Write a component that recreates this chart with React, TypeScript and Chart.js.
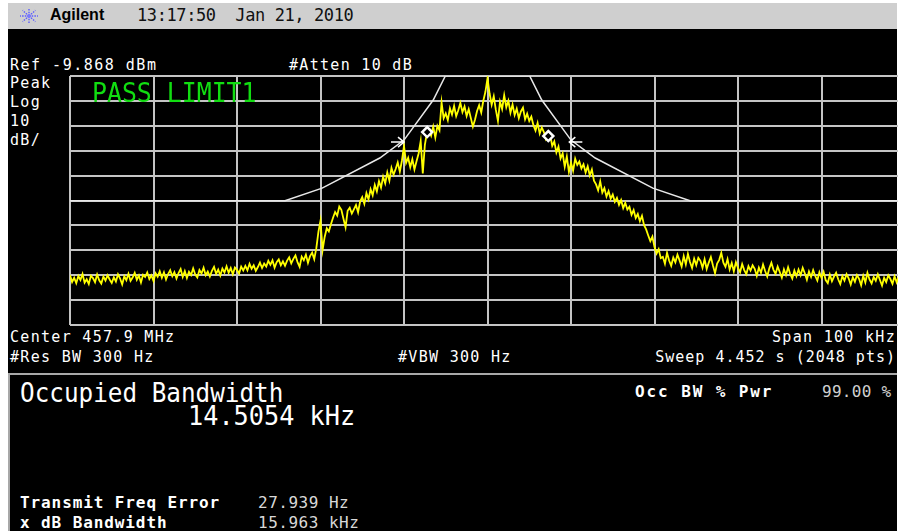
import React, { useEffect, useRef } from "react";
import { Chart, registerables } from "chart.js";

Chart.register(...registerables);

// Sweep: 100 kHz span around 457.9 MHz, trace sampled every 0.25 kHz
const FREQ_START_KHZ = -50;
const FREQ_STEP_KHZ = 0.25;

// Reference level and 10 dB/div log scale
const REF_LEVEL_DBM = -9.868;
const BOTTOM_DBM = -109.868;
const Y_GRID_DBM = [-109.868, -99.868, -89.868, -79.868, -69.868, -59.868, -49.868, -39.868, -29.868, -19.868, -9.868];
const X_GRID_STEP_KHZ = 10;

// Measured trace (dBm), one row per kHz
const TRACE_DBM = [
  -89.8, -92.6, -90.9, -93.1, // -50
  -90.2, -91.8, -89.4, -92.9,
  -91.5, -93.4, -90.1, -91.0,
  -92.7, -89.6, -91.9, -93.2,
  -90.4, -92.0, -89.9, -91.6,
  -93.0, -90.7, -92.4, -89.5, // -45
  -91.2, -93.6, -90.3, -91.9,
  -89.3, -92.1, -90.8, -88.9,
  -91.7, -90.0, -92.8, -89.7,
  -90.6, -88.8, -91.4, -89.9,
  -92.2, -89.1, -90.5, -88.3, // -40
  -90.9, -88.7, -91.6, -89.4,
  -87.9, -90.3, -88.6, -91.2,
  -89.0, -87.4, -90.6, -88.2,
  -91.0, -88.5, -89.8, -87.1,
  -89.6, -90.8, -87.8, -89.2, // -35
  -86.9, -89.9, -88.4, -90.4,
  -88.1, -86.5, -89.3, -87.6,
  -90.0, -87.2, -88.8, -86.3,
  -88.9, -87.0, -89.5, -86.8,
  -87.7, -89.2, -86.4, -88.0, // -30
  -86.1, -87.9, -85.3, -87.3,
  -85.9, -88.1, -86.6, -84.8,
  -87.0, -85.2, -86.4, -84.1,
  -85.7, -83.9, -86.8, -84.6,
  -83.5, -85.9, -84.3, -86.1, // -25
  -84.0, -82.7, -85.1, -83.3,
  -81.9, -84.6, -86.5, -82.4,
  -83.8, -81.6, -84.9, -82.2,
  -80.8, -83.4, -79.0, -72.5,
  -68.0, -79.8, -74.5, -71.0, // -20
  -72.3, -69.4, -66.8, -64.5,
  -65.9, -62.3, -63.6, -67.2,
  -70.6, -64.0, -62.8, -65.1,
  -63.4, -61.7, -64.6, -60.2,
  -58.5, -61.2, -56.9, -59.4, // -15
  -55.3, -57.8, -53.6, -56.2,
  -52.1, -54.7, -50.3, -53.0,
  -48.6, -51.9, -46.8, -49.5,
  -47.2, -44.6, -48.3, -43.9,
  -38.0, -44.8, -42.7, -46.5, // -10
  -43.3, -47.4, -44.1, -41.0,
  -36.0, -49.0, -37.5, -32.6,
  -31.5, -33.8, -30.2, -34.6,
  -29.9, -31.7, -20.5, -26.8,
  -24.9, -27.6, -22.8, -25.3, // -5
  -21.9, -26.0, -23.6, -20.7,
  -24.4, -22.1, -25.9, -23.2,
  -26.7, -30.2, -27.4, -23.9,
  -21.6, -24.5, -19.8, -16.2,
  -10.8, -16.9, -21.4, -18.0, // 0
  -23.5, -27.9, -20.2, -23.1,
  -17.6, -22.4, -19.8, -24.6,
  -21.3, -25.5, -23.0, -26.8,
  -24.1, -22.6, -27.3, -25.0,
  -27.9, -26.2, -29.6, -31.8, // 5
  -28.7, -33.0, -30.5, -32.4,
  -35.3, -34.0, -33.4, -37.9,
  -36.1, -40.6, -38.2, -43.0,
  -40.9, -46.3, -42.2, -48.4,
  -44.7, -47.9, -43.1, -45.6, // 10
  -44.2, -47.0, -45.3, -48.6,
  -46.1, -49.8, -47.4, -51.9,
  -53.4, -55.8, -52.2, -56.7,
  -54.9, -58.3, -56.1, -59.2,
  -57.5, -60.4, -58.8, -61.6, // 15
  -59.7, -62.9, -60.8, -63.5,
  -62.4, -65.6, -63.7, -66.9,
  -65.3, -68.2, -66.0, -69.8,
  -71.5, -73.9, -76.2, -74.4,
  -78.6, -81.2, -79.4, -83.0, // 20
  -82.5, -85.3, -80.9, -84.0,
  -86.1, -82.8, -84.7, -81.6,
  -83.9, -86.4, -82.2, -85.5,
  -81.3, -84.6, -87.0, -83.2,
  -85.8, -82.9, -84.1, -86.9, // 25
  -83.5, -87.4, -84.8, -82.6,
  -86.0, -89.1, -85.2, -83.7,
  -80.9, -84.8, -86.5, -83.4,
  -87.6, -85.0, -88.3, -84.6,
  -86.9, -88.7, -85.4, -87.8, // 30
  -89.5, -86.2, -88.0, -85.9,
  -87.3, -90.1, -86.8, -88.9,
  -85.6, -88.2, -90.4, -87.1,
  -84.9, -87.7, -89.3, -86.4,
  -88.6, -90.9, -87.5, -89.8, // 35
  -86.7, -89.4, -91.2, -88.0,
  -90.3, -87.6, -89.9, -86.9,
  -89.1, -91.7, -88.4, -90.6,
  -87.8, -90.2, -92.0, -88.7,
  -90.9, -88.5, -91.8, -93.0, // 40
  -89.6, -92.3, -90.4, -88.9,
  -91.5, -93.4, -90.2, -92.0,
  -89.4, -91.1, -93.6, -90.7,
  -92.5, -89.8, -91.3, -93.9,
  -90.1, -92.8, -88.9, -91.6, // 45
  -93.2, -90.6, -92.1, -89.5,
  -91.8, -94.0, -90.9, -92.6,
  -89.9, -91.4, -93.3, -90.3,
  -92.7, -90.5, -91.9, -93.1,
  -90.8, // 50
];

// Limit line 1 (spectral mask)
const LIMIT_KHZ = [-50, -24.25, -19.8, -12.9, -10.0, -6.5, -5.05, 5.05, 6.5, 10.0, 12.9, 19.8, 24.25, 50];
const LIMIT_DBM = [-60, -60, -54.9, -42.8, -35.6, -19.5, -9.868, -9.868, -19.5, -35.6, -42.8, -54.9, -60, -60];

// Occupied-bandwidth markers (99 % power edges)
const OBW_MARKER_KHZ = [-7.225, 7.281];
const OBW_MARKER_DBM = [-32.4, -34.0];

// Arrow markers on the mask
const ARROW_KHZ = [-10.0, 9.8];
const ARROW_DBM = [-36.4, -36.4];
const ARROW_DIR = [1, -1];

const MONO = '"DejaVu Sans Mono", "Liberation Mono", monospace';

type TextProps = {
  x?: number;
  right?: number;
  base: number;
  size: number;
  color?: string;
  bold?: boolean;
  spacing?: number;
  scaleX?: number;
  font?: string;
  children: React.ReactNode;
};

function Txt({ x, right, base, size, color = "#ffffff", bold, spacing = 0, scaleX = 1, font = MONO, children }: TextProps) {
  const style: React.CSSProperties = {
    position: "absolute",
    top: base - 0.846 * size,
    fontFamily: font,
    fontSize: size,
    lineHeight: `${size}px`,
    color,
    fontWeight: bold ? "bold" : "normal",
    letterSpacing: spacing,
    whiteSpace: "pre",
    transform: scaleX !== 1 ? `scaleX(${scaleX})` : undefined,
    transformOrigin: right !== undefined ? "right" : "left",
  };
  if (right !== undefined) style.right = 898 - right;
  else style.left = x;
  return <div style={style}>{children}</div>;
}

const arrowPlugin = {
  id: "maskArrows",
  afterDatasetsDraw(chart: any) {
    const { ctx, scales } = chart;
    ctx.save();
    ctx.strokeStyle = "#ffffff";
    ctx.lineWidth = 1.5;
    ARROW_KHZ.forEach((f, i) => {
      const px = scales.x.getPixelForValue(f);
      const py = scales.y.getPixelForValue(ARROW_DBM[i]);
      const d = ARROW_DIR[i];
      ctx.beginPath();
      ctx.moveTo(px - d * 13, py);
      ctx.lineTo(px, py);
      ctx.moveTo(px - d * 6, py - 5);
      ctx.lineTo(px, py);
      ctx.lineTo(px - d * 6, py + 5);
      ctx.stroke();
    });
    ctx.restore();
  },
};

function SpectrumChart() {
  const ref = useRef<HTMLCanvasElement | null>(null);
  useEffect(() => {
    if (!ref.current) return;
    const trace = TRACE_DBM.map((y, i) => ({ x: FREQ_START_KHZ + i * FREQ_STEP_KHZ, y }));
    const limit = LIMIT_KHZ.map((x, i) => ({ x, y: LIMIT_DBM[i] }));
    const markers = OBW_MARKER_KHZ.map((x, i) => ({ x, y: OBW_MARKER_DBM[i] }));
    const gridColor = "#c4c4c4";
    const chart = new Chart(ref.current, {
      type: "line",
      data: {
        datasets: [
          {
            label: "Limit 1",
            data: limit,
            borderColor: "#e8e8e8",
            borderWidth: 1.5,
            pointRadius: 0,
            order: 3,
          },
          {
            label: "Trace",
            data: trace,
            borderColor: "#ffff00",
            borderWidth: 1.8,
            pointRadius: 0,
            order: 2,
          },
          {
            label: "OBW",
            data: markers,
            showLine: false,
            pointStyle: "rectRot",
            pointRadius: 5,
            borderWidth: 2.5,
            pointBorderColor: "#ffffff",
            pointBackgroundColor: "#000000",
            order: 1,
          },
        ],
      },
      options: {
        animation: false,
        responsive: false,
        events: [],
        layout: { padding: 2, autoPadding: false },
        scales: {
          x: {
            type: "linear",
            min: -50,
            max: 50,
            ticks: { display: false, stepSize: X_GRID_STEP_KHZ },
            grid: { color: gridColor, lineWidth: 2, drawTicks: false },
            border: { display: false },
          },
          y: {
            type: "linear",
            min: BOTTOM_DBM,
            max: REF_LEVEL_DBM,
            ticks: { display: false },
            afterBuildTicks: (scale: any) => {
              scale.ticks = Y_GRID_DBM.map((value) => ({ value }));
            },
            grid: { color: gridColor, lineWidth: 2, drawTicks: false },
            border: { display: false },
          },
        },
        plugins: { legend: { display: false }, tooltip: { enabled: false } },
      },
      plugins: [arrowPlugin],
    });
    return () => chart.destroy();
  }, []);
  return (
    <canvas
      ref={ref}
      width={839}
      height={253}
      style={{ position: "absolute", left: 68, top: 74, width: 839, height: 253 }}
    />
  );
}

function AgilentStar() {
  const rays = [0, 45, 90, 135, 180, 225, 270, 315];
  return (
    <svg width={22} height={20} style={{ position: "absolute", left: 18, top: 6 }}>
      {rays.map((a) => {
        const r = (a * Math.PI) / 180;
        return (
          <line
            key={a}
            x1={11}
            y1={10}
            x2={11 + Math.cos(r) * 9}
            y2={10 + Math.sin(r) * 8}
            stroke="#5a5aff"
            strokeWidth={1.4}
            strokeDasharray="1.5 1.2"
          />
        );
      })}
      <circle cx={11} cy={10} r={2} fill="#7a7aff" />
    </svg>
  );
}

export default function App() {
  return (
    <div
      style={{
        position: "fixed",
        left: 0,
        top: 0,
        width: 898,
        height: 531,
        background: "#ffffff",
        overflow: "hidden",
      }}
    >
      {/* title bar */}
      <div style={{ position: "absolute", left: 8, top: 3, width: 889, height: 26, background: "#cfcfcf" }} />
      <AgilentStar />
      <Txt x={50} base={21} size={16} bold color="#000" font='"Liberation Sans", Arial, sans-serif'>
        Agilent
      </Txt>
      <Txt x={137} base={21} size={17} color="#111" spacing={-0.4}>
        13:17:50  Jan 21, 2010
      </Txt>

      {/* screen */}
      <div style={{ position: "absolute", left: 8, top: 29, width: 889, height: 502, background: "#000" }} />

      <Txt x={10} base={71} size={15} spacing={1.5}>Ref -9.868 dBm</Txt>
      <Txt x={289} base={71} size={15} spacing={1.3}>#Atten 10 dB</Txt>
      <Txt x={10} base={89} size={15} spacing={1.3}>Peak</Txt>
      <Txt x={10} base={108} size={15} spacing={1.3}>Log</Txt>
      <Txt x={10} base={127} size={15} spacing={1.3}>10</Txt>
      <Txt x={10} base={146} size={15} spacing={1.3}>dB/</Txt>

      <SpectrumChart />

      <Txt x={92} base={102} size={27} color="#11dd11" scaleX={0.92}>PASS LIMIT1</Txt>

      <Txt x={10} base={343} size={15} spacing={1.3}>Center 457.9 MHz</Txt>
      <Txt x={10} base={363} size={15} spacing={1.3}>#Res BW 300 Hz</Txt>
      <Txt x={398} base={363} size={15} spacing={1.3}>#VBW 300 Hz</Txt>
      <Txt right={896} base={343} size={15} spacing={1.3}>Span 100 kHz</Txt>
      <Txt right={896} base={363} size={15} spacing={1.0}>Sweep 4.452 s (2048 pts)</Txt>

      {/* measurement panel */}
      <div
        style={{
          position: "absolute",
          left: 8,
          top: 373,
          width: 887,
          height: 158,
          borderTop: "2px solid #a8a8a8",
          borderLeft: "2px solid #a8a8a8",
          background: "#000",
        }}
      />
      <Txt x={20} base={402} size={27} scaleX={0.9}>Occupied Bandwidth</Txt>
      <Txt x={188} base={425} size={27} scaleX={0.935}>14.5054 kHz</Txt>
      <Txt x={635} base={398} size={16} bold spacing={1.9}>Occ BW % Pwr</Txt>
      <Txt x={822} base={398} size={16} color="#d0d0d0" spacing={0.3}>99.00 %</Txt>
      <Txt x={20} base={509} size={16} bold spacing={0.9}>Transmit Freq Error</Txt>
      <Txt x={258} base={509} size={16} color="#d8d8d8" spacing={0.5}>27.939 Hz</Txt>
      <Txt x={20} base={529} size={16} bold spacing={0.9}>x dB Bandwidth</Txt>
      <Txt x={258} base={529} size={16} color="#d8d8d8" spacing={0.5}>15.963 kHz</Txt>
    </div>
  );
}
